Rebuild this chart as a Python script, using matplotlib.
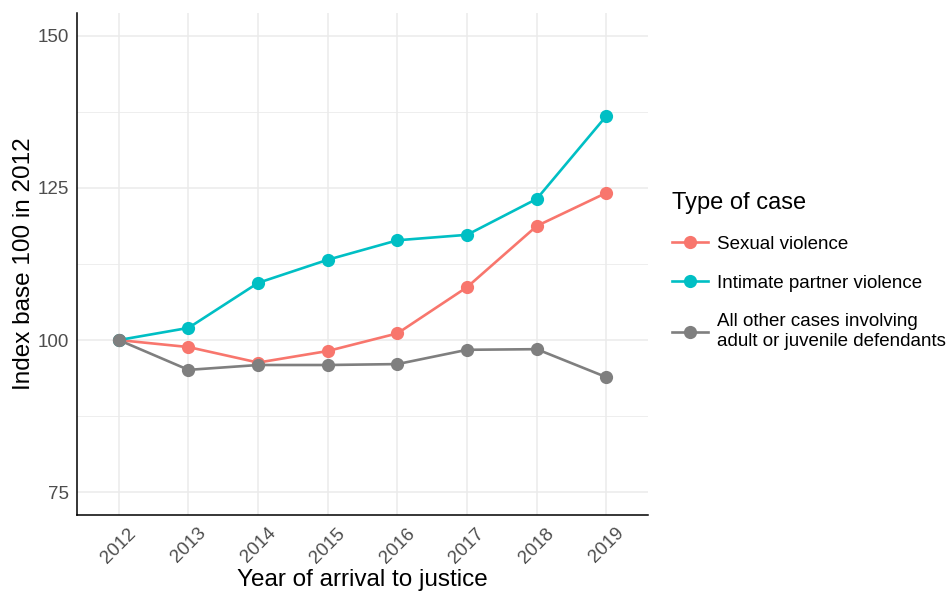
import matplotlib.pyplot as plt
from matplotlib.ticker import MultipleLocator

plt.rcParams['font.family'] = ['Liberation Sans', 'DejaVu Sans']

# Data
years = [2012, 2013, 2014, 2015, 2016, 2017, 2018, 2019]
sexual = [100, 98.85, 96.3, 98.2, 101.1, 108.7, 118.75, 124.2]
intimate = [100, 102.0, 109.4, 113.2, 116.4, 117.3, 123.2, 136.85]
other = [100, 95.1, 95.9, 95.9, 96.05, 98.4, 98.5, 93.9]

series_names = ['Sexual violence', 'Intimate partner violence',
                'All other cases involving\nadult or juvenile defendants']
colors = ['#F8766D', '#00BFC4', '#7F7F7F']
y_ticks = [75, 100, 125, 150]

fig = plt.figure(figsize=(9.52, 5.92), dpi=100)
ax = fig.add_axes([0.0809, 0.1301, 0.6, 0.8479])

handles = []
for vals, name, c in zip([sexual, intimate, other], series_names, colors):
    h, = ax.plot(years, vals, color=c, lw=1.9, marker='o', ms=9.5,
                 markeredgewidth=0, label=name, zorder=3)
    handles.append(h)

ax.set_xlim(2011.4, 2019.6)
ax.set_ylim(71.25, 153.75)
ax.set_xticks(years)
ax.set_xticklabels([str(y) for y in years], rotation=45, ha='center',
                   va='top')
ax.set_yticks(y_ticks)
ax.yaxis.set_minor_locator(MultipleLocator(12.5))

ax.grid(True, which='major', color='#EBEBEB', lw=1.1, zorder=0)
ax.grid(True, which='minor', axis='y', color='#EBEBEB', lw=0.6, zorder=0)
ax.tick_params(which='both', length=0, labelsize=13.5, labelcolor='#4D4D4D')
ax.tick_params(axis='x', pad=7)
ax.tick_params(axis='y', pad=6)

for s in ['top', 'right']:
    ax.spines[s].set_visible(False)
for s in ['left', 'bottom']:
    ax.spines[s].set_color('black')
    ax.spines[s].set_linewidth(1.1)

ax.set_xlabel('Year of arrival to justice', fontsize=17.5, labelpad=2)
ax.set_ylabel('Index base 100 in 2012', fontsize=17.5, labelpad=2)

leg = fig.legend(handles=handles, title='Type of case', loc='upper left',
                 bbox_to_anchor=(0.701, 0.683), frameon=False, fontsize=13.5,
                 title_fontsize=17, handlelength=1.9, handletextpad=0.5,
                 labelspacing=1.15, borderpad=0.25, borderaxespad=0)
leg._legend_box.align = 'left'

fig.savefig('out.png', dpi=100)
